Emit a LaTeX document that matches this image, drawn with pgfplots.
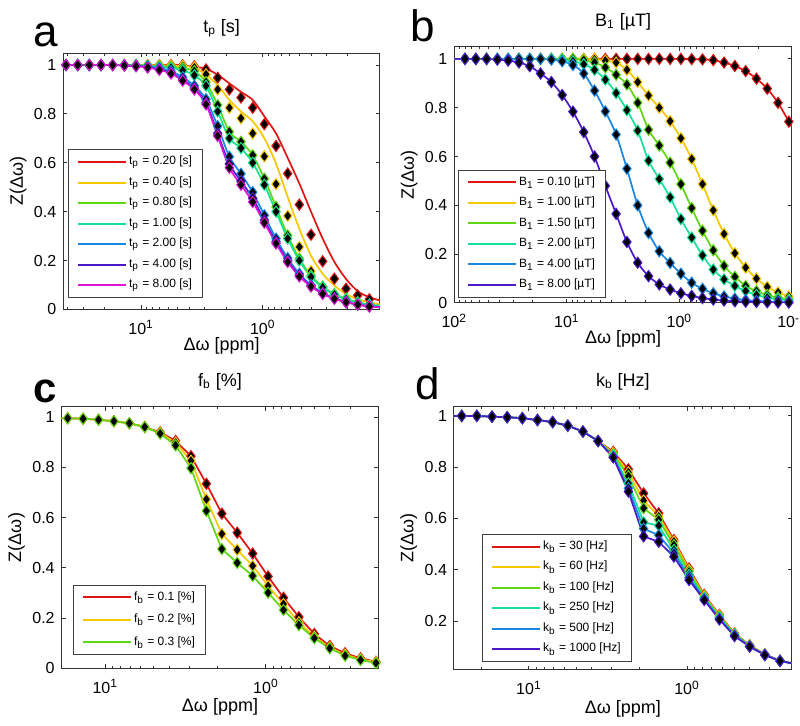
\documentclass[border=0pt]{standalone}
\usepackage{fontspec}
\setmainfont{Liberation Sans}
\usepackage{pgfplots}
\usepackage{pgfplotstable}
\pgfplotsset{compat=1.18}

\definecolor{cR}{RGB}{225,20,20}
\definecolor{cY}{RGB}{245,200,0}
\definecolor{cG}{RGB}{95,215,20}
\definecolor{cT}{RGB}{20,225,150}
\definecolor{cB}{RGB}{25,135,225}
\definecolor{cI}{RGB}{75,25,200}
\definecolor{cM}{RGB}{225,20,215}

% panel a: x, red marks, red line, yellow marks, yellow line, green, teal, blue, indigo, magenta
\pgfplotstableread{
x rm rl ym yl g t b i m
43.6 1 1 1 1 1 1 1 1 1
41.43 1 1 1 1 1 1 1 1 1
33.22 1 1 1 1 1 1 1 1 1
26.64 1 1 1 1 1 1 1 1 1
21.36 1 1 1 1 1 1 1 1 1
17.13 1 1 1 1 1 1 1 1 1
13.73 1 1 1 1 1 1 0.999 0.998 0.998
11.01 1 1 1 1 1 0.999 0.997 0.996 0.995
8.831 1 1 1 1 0.998 0.997 0.994 0.991 0.99
7.081 1 1 0.999 0.999 0.996 0.993 0.988 0.982 0.98
5.678 1 1 0.998 0.998 0.993 0.988 0.975 0.968 0.965
4.553 0.999 0.999 0.996 0.996 0.987 0.978 0.95 0.94 0.936
3.651 0.995 0.992 0.99 0.99 0.975 0.958 0.915 0.905 0.90
2.928 0.982 0.985 0.962 0.96 0.93 0.915 0.86 0.845 0.839
2.348 0.948 0.96 0.90 0.918 0.836 0.81 0.75 0.72 0.71
1.882 0.90 0.925 0.825 0.857 0.727 0.70 0.625 0.595 0.58
1.510 0.867 0.89 0.782 0.81 0.686 0.66 0.555 0.525 0.51
1.210 0.825 0.857 0.72 0.77 0.631 0.60 0.48 0.455 0.44
0.9705 0.758 0.79 0.626 0.70 0.535 0.51 0.385 0.365 0.355
0.7782 0.669 0.72 0.513 0.597 0.42 0.40 0.29 0.277 0.27
0.6240 0.556 0.62 0.383 0.46 0.303 0.29 0.21 0.199 0.194
0.5004 0.429 0.515 0.256 0.33 0.208 0.20 0.146 0.139 0.135
0.4013 0.306 0.40 0.157 0.22 0.139 0.133 0.10 0.096 0.094
0.3218 0.197 0.29 0.089 0.146 0.094 0.09 0.068 0.065 0.064
0.2580 0.126 0.195 0.05 0.098 0.064 0.061 0.046 0.045 0.044
0.2069 0.085 0.125 0.03 0.063 0.044 0.042 0.031 0.030 0.030
0.1659 0.058 0.075 0.02 0.042 0.030 0.028 0.021 0.020 0.020
0.1330 0.042 0.05 0.014 0.029 0.020 0.019 0.014 0.013 0.012
0.1088 0.035 0.037 0.01 0.021 0.016 0.015 0.011 0.010 0.009
}\tabA

% panel b: B1 = 0.1, 1, 1.5, 2, 4, 8 uT
\pgfplotstableread{
x r y g t b p
100 1 1 1 1 1 1
80.35 1 1 1 1 1 1
64.43 1 1 1 1 1 1
51.67 1 1 1 1 1 1
41.43 1 1 1 1 1 0.997
33.22 1 1 1 1 1 0.993
26.64 1 1 1 1 1 0.985
21.36 1 1 1 1 1 0.97
17.13 1 1 1 1 1 0.94
13.73 1 1 1 1 0.997 0.905
11.01 1 1 1 0.997 0.99 0.852
8.831 1 1 1 0.99 0.975 0.784
7.081 1 1 0.995 0.978 0.94 0.70
5.678 1 0.998 0.985 0.955 0.87 0.60
4.553 1 0.993 0.965 0.915 0.785 0.48
3.651 1 0.985 0.935 0.86 0.69 0.365
2.928 1 0.955 0.895 0.79 0.55 0.25
2.348 1 0.905 0.82 0.706 0.40 0.165
1.882 1 0.85 0.71 0.583 0.287 0.11
1.510 1 0.80 0.645 0.508 0.212 0.076
1.210 1 0.745 0.575 0.433 0.164 0.055
0.9705 1 0.675 0.487 0.344 0.12 0.04
0.7782 0.999 0.59 0.389 0.268 0.083 0.029
0.6240 0.998 0.487 0.296 0.195 0.058 0.02
0.5004 0.995 0.38 0.216 0.137 0.04 0.014
0.4013 0.985 0.283 0.152 0.097 0.027 0.01
0.3218 0.971 0.204 0.107 0.07 0.018 0.007
0.2580 0.95 0.145 0.07 0.049 0.012 0.005
0.2069 0.919 0.10 0.049 0.033 0.008 0.004
0.1659 0.878 0.066 0.033 0.022 0.006 0.003
0.1330 0.82 0.043 0.022 0.015 0.004 0.002
0.1067 0.743 0.027 0.015 0.011 0.003 0.002
0.1 0.72 0.024 0.013 0.01 0.003 0.002
}\tabB

% panel c: fb = 0.1, 0.2, 0.3 %
\pgfplotstableread{
x r y g
18.66 0.997 0.997 0.997
17.13 0.996 0.996 0.996
13.73 0.994 0.994 0.994
11.01 0.990 0.990 0.990
8.831 0.984 0.984 0.984
7.081 0.976 0.976 0.976
5.678 0.961 0.961 0.961
4.553 0.940 0.937 0.935
3.651 0.906 0.899 0.888
2.928 0.845 0.827 0.797
2.348 0.735 0.673 0.627
1.882 0.616 0.535 0.475
1.510 0.540 0.472 0.420
1.210 0.457 0.408 0.368
0.9705 0.366 0.328 0.301
0.7782 0.281 0.256 0.232
0.6240 0.204 0.183 0.172
0.5004 0.137 0.126 0.120
0.4013 0.089 0.083 0.080
0.3218 0.060 0.054 0.050
0.2580 0.040 0.036 0.033
0.2069 0.026 0.024 0.021
0.2001 0.025 0.023 0.020
}\tabC

% panel d: kb = 30, 60, 100, 250, 500, 1000 Hz
\pgfplotstableread{
x r y g t b p
29.8 1 1 1 1 1 1
26.64 1 1 1 1 1 1
21.36 1 1 1 1 1 1
17.13 0.997 0.997 0.997 0.997 0.997 0.997
13.73 0.995 0.995 0.995 0.995 0.995 0.995
11.01 0.991 0.991 0.991 0.991 0.991 0.991
8.831 0.984 0.984 0.984 0.984 0.984 0.984
7.081 0.976 0.976 0.976 0.976 0.976 0.976
5.678 0.962 0.962 0.962 0.962 0.962 0.962
4.553 0.939 0.939 0.939 0.939 0.939 0.939
3.651 0.902 0.902 0.902 0.902 0.902 0.902
2.928 0.86 0.855 0.85 0.845 0.84 0.838
2.348 0.792 0.78 0.765 0.737 0.718 0.705
1.882 0.698 0.67 0.64 0.585 0.56 0.53
1.510 0.62 0.608 0.595 0.572 0.535 0.509
1.210 0.516 0.51 0.496 0.477 0.464 0.451
0.9705 0.405 0.399 0.392 0.38 0.37 0.36
0.7782 0.302 0.298 0.294 0.29 0.286 0.282
0.6240 0.224 0.221 0.218 0.214 0.21 0.206
0.5004 0.152 0.15 0.148 0.146 0.143 0.141
0.4013 0.106 0.105 0.104 0.102 0.101 0.1
0.3218 0.07 0.069 0.069 0.068 0.068 0.067
0.2580 0.046 0.045 0.045 0.045 0.044 0.044
0.2176 0.036 0.036 0.035 0.035 0.035 0.035
}\tabD

\pgfplotsset{/pgf/number format/assume math mode=true}
\pgfplotsset{
  every axis/.append style={
    scale only axis,
    axis line style={black!80, line width=0.5pt},
    tick style={black!80, line width=0.5pt},
    major tick length=2pt, minor tick length=1.3pt,
    tick label style={font=\fontsize{8}{9}\selectfont},
    xticklabel style={anchor=base, yshift=-12.4pt},
    title style={font=\fontsize{9}{10}\selectfont},
    label style={font=\fontsize{9}{10}\selectfont},
    xlabel={Δω [ppm]}, ylabel={Z(Δω)},
    minor xtick={0.2,0.3,0.4,0.5,0.6,0.7,0.8,0.9,2,3,4,5,6,7,8,9,20,30,40,50,60,70,80,90},
    legend cell align=left,
    legend style={font=\fontsize{6}{7}\selectfont, draw=black!75, line width=0.4pt, fill=white,
      inner xsep=4pt, inner ysep=2pt, row sep=2pt, nodes={inner sep=1.2pt}, anchor=south west},
    legend image code/.code={\draw[##1, line width=1pt] (0pt,0pt) -- (24pt,0pt);},
  },
  every axis title/.style={at={([yshift=10.3pt]axis description cs:0.5,1)}, anchor=base},
  every axis x label/.style={at={([yshift=-20.3pt]axis description cs:0.5,0)}, anchor=base},
  every axis y label/.style={at={([xshift=-22.6pt]axis description cs:0,0.5)}, rotate=90, anchor=center},
  myMk/.style={forget plot, only marks, mark=diamond*, mark size=2.8pt,
    mark options={draw=#1, fill=black, line width=0.5pt, solid}},
  myLn/.style={color=#1, line width=0.85pt, mark=none},
  skA/.style={skip coords between index={0}{1}, skip coords between index={28}{29}},
  skB/.style={skip coords between index={0}{1}, skip coords between index={32}{33}},
  skC/.style={skip coords between index={0}{1}, skip coords between index={22}{23}},
  skD/.style={skip coords between index={0}{1}, skip coords between index={23}{24}},
}

% table, mark column, line column, colour, skip style, line style, legend text
\newcommand\ser[7]{%
  \addplot[myMk=#4,#5] table[x=x,y=#2]{#1};
  \addplot[myLn=#4,#6] table[x=x,y=#3]{#1};
  \addlegendentry{#7}}

\begin{document}
\begin{tikzpicture}
\useasboundingbox (0,0) rectangle (400pt,363pt);

% ---------- a ----------
\begin{axis}[xmode=log, x dir=reverse, at={(31.65pt,208.25pt)}, anchor=south west,
  width=158.35pt, height=128.1pt,
  xmin=0.1088, xmax=43.6, ymin=0, ymax=1.048,
  xtick={1,10}, xticklabels={10\textsuperscript{0},10\textsuperscript{1}},
  ytick={0,0.2,0.4,0.6,0.8,1},
  title={t\textsubscript{p} [s]},
  legend style={at={(0.0158,0.046)}}]
\ser{\tabA}{rm}{rl}{cR}{skA}{smooth}{t\textsubscript{p} = 0.20 [s]}
\ser{\tabA}{ym}{yl}{cY}{skA}{smooth}{t\textsubscript{p} = 0.40 [s]}
\ser{\tabA}{g}{g}{cG}{skA}{smooth}{t\textsubscript{p} = 0.80 [s]}
\ser{\tabA}{t}{t}{cT}{skA}{smooth}{t\textsubscript{p} = 1.00 [s]}
\ser{\tabA}{b}{b}{cB}{skA}{smooth}{t\textsubscript{p} = 2.00 [s]}
\ser{\tabA}{i}{i}{cI}{skA}{smooth}{t\textsubscript{p} = 4.00 [s]}
\ser{\tabA}{m}{m}{cM}{skA}{smooth}{t\textsubscript{p} = 8.00 [s]}
\end{axis}

% ---------- b ----------
\begin{axis}[xmode=log, x dir=reverse, at={(227.15pt,211.5pt)}, anchor=south west,
  width=168.85pt, height=128.15pt,
  xmin=0.1, xmax=100, ymin=0, ymax=1.05,
  xtick={0.1,1,10,100}, xticklabels={10\textsuperscript{-1},10\textsuperscript{0},10\textsuperscript{1},10\textsuperscript{2}},
  ytick={0,0.2,0.4,0.6,0.8,1},
  title={B\textsubscript{1} [µT]},
  legend style={at={(0.012,0.021)}}]
\ser{\tabB}{r}{r}{cR}{skB}{smooth}{B\textsubscript{1} = 0.10 [µT]}
\ser{\tabB}{y}{y}{cY}{skB}{smooth}{B\textsubscript{1} = 1.00 [µT]}
\ser{\tabB}{g}{g}{cG}{skB}{smooth}{B\textsubscript{1} = 1.50 [µT]}
\ser{\tabB}{t}{t}{cT}{skB}{smooth}{B\textsubscript{1} = 2.00 [µT]}
\ser{\tabB}{b}{b}{cB}{skB}{smooth}{B\textsubscript{1} = 4.00 [µT]}
\ser{\tabB}{p}{p}{cI}{skB}{smooth}{B\textsubscript{1} = 8.00 [µT]}
\end{axis}

% ---------- c ----------
\begin{axis}[xmode=log, x dir=reverse, at={(30.85pt,28.85pt)}, anchor=south west,
  width=158.3pt, height=130.8pt,
  xmin=0.2001, xmax=18.66, ymin=0, ymax=1.042,
  xtick={1,10}, xticklabels={10\textsuperscript{0},10\textsuperscript{1}},
  ytick={0,0.2,0.4,0.6,0.8,1},
  title={f\textsubscript{b} [\%]},
  xlabel style={at={([yshift=-21.8pt]axis description cs:0.5,0)}},
  legend style={at={(0.0366,0.051)}, row sep=3pt}]
\ser{\tabC}{r}{r}{cR}{skC}{sharp plot}{f\textsubscript{b} = 0.1 [\%]}
\ser{\tabC}{y}{y}{cY}{skC}{sharp plot}{f\textsubscript{b} = 0.2 [\%]}
\ser{\tabC}{g}{g}{cG}{skC}{sharp plot}{f\textsubscript{b} = 0.3 [\%]}
\end{axis}

% ---------- d ----------
\begin{axis}[xmode=log, x dir=reverse, at={(227pt,28pt)}, anchor=south west,
  width=168.85pt, height=131.65pt,
  xmin=0.2176, xmax=29.8, ymin=0.009, ymax=1.036,
  xtick={1,10}, xticklabels={10\textsuperscript{0},10\textsuperscript{1}},
  ytick={0.2,0.4,0.6,0.8,1},
  title={k\textsubscript{b} [Hz]},
  xlabel style={at={([yshift=-21.8pt]axis description cs:0.5,0)}},
  legend style={at={(0.084,0.0315)}}]
\ser{\tabD}{r}{r}{cR}{skD}{sharp plot}{k\textsubscript{b} = 30 [Hz]}
\ser{\tabD}{y}{y}{cY}{skD}{sharp plot}{k\textsubscript{b} = 60 [Hz]}
\ser{\tabD}{g}{g}{cG}{skD}{sharp plot}{k\textsubscript{b} = 100 [Hz]}
\ser{\tabD}{t}{t}{cT}{skD}{sharp plot}{k\textsubscript{b} = 250 [Hz]}
\ser{\tabD}{b}{b}{cB}{skD}{sharp plot}{k\textsubscript{b} = 500 [Hz]}
\ser{\tabD}{p}{p}{cI}{skD}{sharp plot}{k\textsubscript{b} = 1000 [Hz]}
\end{axis}

% panel letters
\node[anchor=base west, inner sep=0, font=\fontsize{22}{22}\selectfont] at (16.5pt,339.5pt) {a};
\node[anchor=base west, inner sep=0, font=\fontsize{22}{22}\selectfont] at (205pt,342.2pt) {b};
\node[anchor=base west, inner sep=0, font=\fontsize{21}{21}\selectfont\bfseries] at (16.5pt,161.5pt) {c};
\node[anchor=base west, inner sep=0, font=\fontsize{22}{22}\selectfont] at (207.5pt,163pt) {d};
\end{tikzpicture}
\end{document}
